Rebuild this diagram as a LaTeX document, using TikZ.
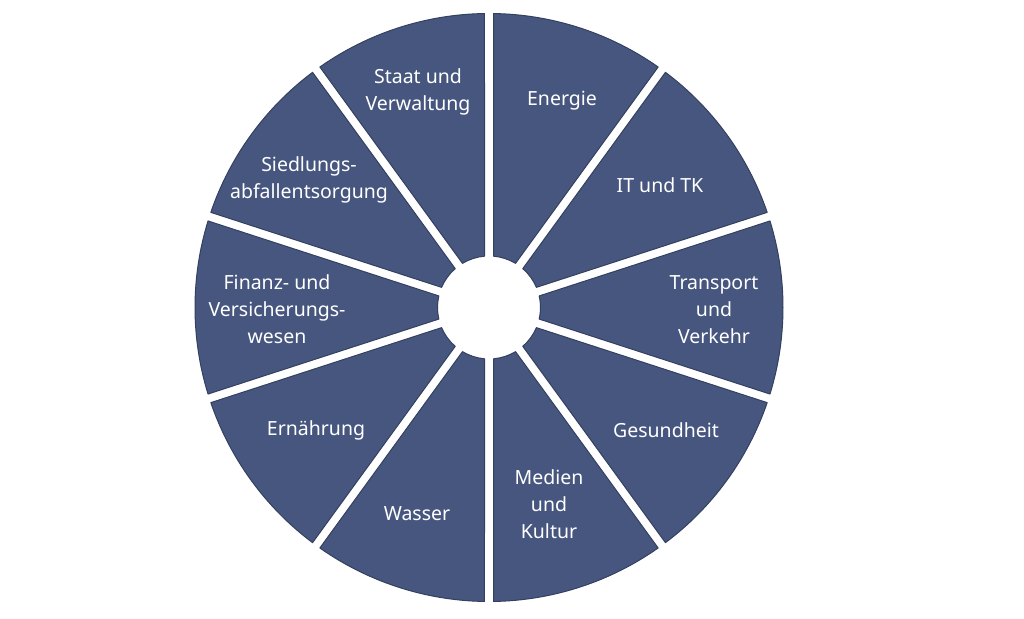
\documentclass[tikz,border=0pt]{standalone}
\usepackage{fontspec}
\setmainfont{Noto Sans}
\definecolor{sectorblue}{HTML}{46567E}
\definecolor{sectoredge}{HTML}{33405F}
\begin{document}
\begin{tikzpicture}[x=1pt, y=1pt,
  sector/.style={fill=sectorblue, draw=sectoredge, line width=1pt, line join=round},
  lbl/.style={text=white, align=center, inner sep=0pt, font=\fontsize{19.5}{27}\selectfont}]
\useasboundingbox[fill=white] (0,0) rectangle (1024,618);
\coordinate (c) at (489,310.5);
\begin{scope}[shift={(c)}]
\foreach \a in {-90,-54,...,234}{
  \pgfmathsetmacro{\b}{\a+36}
  \path[sector] (\a+0.88:294pt) arc[start angle=\a+0.88, end angle=\b-0.88, radius=294pt]
    -- (\b-5.01:51.5pt) arc[start angle=\b-5.01, end angle=\a+5.01, radius=51.5pt] -- cycle;
}
\end{scope}
\node[lbl] (staat) at (418,526) {Staat und\\Verwaltung};
\node[lbl] (energie) at (562,517) {Energie};
\node[lbl] (ittk) at (660,433) {IT und TK};
\node[lbl] (transport) at (714,308) {Transport\\und\\Verkehr};
\node[lbl] (gesundheit) at (666,188) {Gesundheit};
\node[lbl] (medien) at (549,114) {Medien\\und\\Kultur};
\node[lbl] (wasser) at (417,104) {Wasser};
\node[lbl] (ernaehrung) at (316,188) {Ernährung};
\node[lbl] (finanz) at (277,309) {Finanz- und\\Versicherungs-\\wesen};
\node[lbl] (siedlung) at (309,438) {Siedlungs-\\abfallentsorgung};
\end{tikzpicture}
\end{document}
